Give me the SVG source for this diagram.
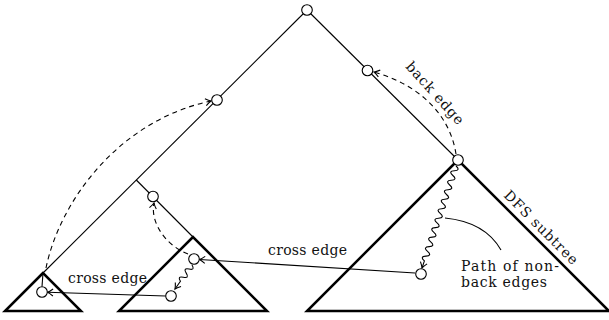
<svg xmlns="http://www.w3.org/2000/svg" width="609" height="320" viewBox="0 0 609 320">
<style>
.tri{fill:none;stroke:#000;stroke-width:2.5;stroke-linejoin:miter}
.edge{fill:none;stroke:#000;stroke-width:1.1}
.dash{fill:none;stroke:#000;stroke-width:1.1;stroke-dasharray:5,4}
.node{fill:#fff;stroke:#000;stroke-width:1.1}
.lbl{font-family:"DejaVu Serif","Liberation Serif",serif;font-size:14px;fill:#111}
</style>
<defs>
<marker id="arr" viewBox="-7 -5 9 10" refX="0" refY="0" markerWidth="9" markerHeight="10" markerUnits="userSpaceOnUse" orient="auto">
<path d="M-5.5,-3.5 Q-2,-0.8 0,0 Q-2,0.8 -5.5,3.5" fill="none" stroke="#000" stroke-width="1.1"/>
</marker>
</defs>

<g id="subtree-left"><polygon class="tri" points="43,273 5,311 81,311"/></g>
<g id="subtree-middle"><polygon class="tri" points="193,237 119,311 267,311"/></g>
<g id="subtree-dfs"><polygon class="tri" points="458,160 307,311 609,311"/></g>

<g id="connectors">
<line class="edge" x1="307" y1="10" x2="43" y2="273"/>
<line class="edge" x1="307" y1="10" x2="458" y2="160"/>
<line class="edge" x1="136.3" y1="180" x2="193" y2="237"/>
<line class="edge" x1="43" y1="273" x2="42" y2="286.5"/>
<path class="dash" d="M46,268 C60,200 120,120 211,101" marker-end="url(#arr)"/>
<path class="dash" d="M188,254 C165,245 150,222 154,203" marker-end="url(#arr)"/>
<path class="dash" d="M456,154 C450,115 420,85 374,72" marker-end="url(#arr)"/>
<path class="edge" d="M415,273 L199.5,259.5" marker-end="url(#arr)"/>
<path class="edge" d="M165.5,296 L47.5,292.3" marker-end="url(#arr)"/>
<path class="edge" transform="translate(456,166) rotate(108.43)" d="M0,0 q2.5,-6 5,0 t5,0 t5,0 t5,0 t5,0 t5,0 t5,0 t5,0 t5,0 t5,0 t5,0 t5,0 t5,0 t5,0 t5,0 t5,0 t5,0 t5,0 t5,0 t5,0 l7.5,0" marker-end="url(#arr)"/>
<path class="edge" transform="translate(192,265) rotate(125.3)" d="M0,0 q2.5,-6 5,0 t5,0 t5,0 t5,0 l9.4,0" marker-end="url(#arr)"/>
<path class="edge" d="M445,218 Q485,222 501,250"/>
</g>

<g id="node-root"><circle class="node" cx="307" cy="10" r="5.3"/></g>
<g id="node-a"><circle class="node" cx="217" cy="100" r="5.3"/></g>
<g id="node-b"><circle class="node" cx="367.5" cy="70.5" r="5.3"/></g>
<g id="node-c"><circle class="node" cx="458" cy="160" r="5.3"/></g>
<g id="node-d"><circle class="node" cx="153" cy="196.5" r="5.3"/></g>
<g id="node-e"><circle class="node" cx="194" cy="259" r="5.3"/></g>
<g id="node-f"><circle class="node" cx="171" cy="296" r="5.3"/></g>
<g id="node-g"><circle class="node" cx="42" cy="292" r="5.3"/></g>
<g id="node-h"><circle class="node" cx="421" cy="274" r="5.3"/></g>

<g id="labels">
<text class="lbl" x="268" y="255" textLength="79">cross edge</text>
<text class="lbl" x="68" y="283" textLength="79">cross edge</text>
<text class="lbl" x="461" y="270.5" textLength="98">Path of non-</text>
<text class="lbl" x="461" y="287" textLength="86">back edges</text>
<text class="lbl" transform="translate(503,196) rotate(45)" x="0" y="0" textLength="98">DFS subtree</text>
<text class="lbl" transform="translate(405,67) rotate(48)" x="0" y="0" textLength="79">back edge</text>
</g>
</svg>
